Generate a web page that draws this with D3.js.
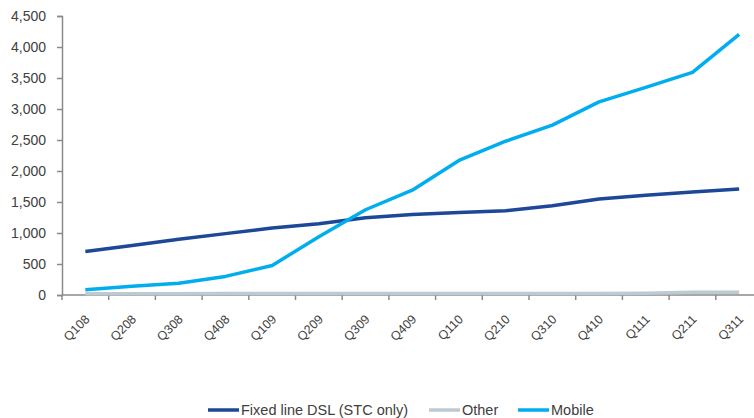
<!DOCTYPE html>
<html>
<head>
<meta charset="utf-8">
<script src="https://cdn.jsdelivr.net/npm/d3@7"></script>
<style>
  body { margin: 0; background: #fff; }
  text { font-family: "Liberation Sans", Arial, sans-serif; fill: #404040; }
</style>
</head>
<body>
<div id="chart"></div>
<script>
const width = 754, height = 418;

const quarters = ["Q108", "Q208", "Q308", "Q408", "Q109", "Q209", "Q309", "Q409",
  "Q110", "Q210", "Q310", "Q410", "Q111", "Q211", "Q311"];
const dsl = [700, 800, 900, 990, 1080, 1150, 1245, 1300, 1330, 1360, 1440, 1550, 1610, 1660, 1710];
const other = [20, 20, 20, 25, 25, 25, 25, 25, 25, 25, 25, 25, 30, 45, 45];
const mobile = [85, 140, 190, 300, 475, 940, 1375, 1690, 2170, 2480, 2740, 3115, 3350, 3590, 4205];
const yTicks = [0, 500, 1000, 1500, 2000, 2500, 3000, 3500, 4000, 4500];

const series = [
  { name: "Fixed line DSL (STC only)", values: dsl, color: "#1d4797" },
  { name: "Other", values: other, color: "#bccad2" },
  { name: "Mobile", values: mobile, color: "#00aeef" }
];

const mLeft = 62, mTop = 16, mBottom = 295;

const svg = d3.select("#chart").append("svg")
  .attr("width", width)
  .attr("height", height);

const x = d3.scaleBand().domain(quarters).range([mLeft, mLeft + 46.7 * quarters.length]);
const y = d3.scaleLinear().domain([0, 4500]).range([mBottom, mTop]);

// y axis
const yAxis = svg.append("g")
  .attr("transform", `translate(${mLeft},0)`)
  .call(d3.axisLeft(y).tickValues(yTicks).tickFormat(d3.format(",")).tickSize(5).tickPadding(11));
yAxis.select(".domain").attr("stroke", "#8a8a8a").attr("stroke-width", 1.5);
yAxis.selectAll(".tick line").attr("stroke", "#8a8a8a").attr("stroke-width", 1.5);
yAxis.selectAll(".tick text").style("font-size", "14px").attr("fill", "#404040");

// x axis: ticks at band boundaries
const xg = svg.append("g").attr("transform", `translate(0,${mBottom})`);
xg.append("line")
  .attr("x1", mLeft).attr("x2", x.range()[1])
  .attr("stroke", "#8a8a8a").attr("stroke-width", 1.5);
xg.selectAll(".xt")
  .data(quarters)
  .enter().append("line")
  .attr("x1", d => x(d)).attr("x2", d => x(d))
  .attr("y1", 0).attr("y2", 5)
  .attr("stroke", "#8a8a8a").attr("stroke-width", 1.5);
xg.selectAll(".xl")
  .data(quarters)
  .enter().append("text")
  .attr("text-anchor", "end")
  .style("font-size", "12.5px")
  .attr("transform", d => `translate(${x(d) + x.bandwidth() / 2 + 5},${25}) rotate(-45)`)
  .text(d => d);

// lines
const line = d3.line()
  .x((d, i) => x(quarters[i]) + x.bandwidth() / 2)
  .y(d => y(d));

const order = [series[1], series[0], series[2]];
svg.selectAll(".series")
  .data(order)
  .enter().append("path")
  .attr("fill", "none")
  .attr("stroke", d => d.color)
  .attr("stroke-width", 3.5)
  .attr("stroke-linejoin", "round")
  .attr("d", d => line(d.values));

// legend
const legendX = [208, 429, 518];
const lg = svg.append("g").attr("transform", "translate(0,410)");
series.forEach((s, i) => {
  lg.append("line")
    .attr("x1", legendX[i]).attr("x2", legendX[i] + 31)
    .attr("stroke", s.color).attr("stroke-width", 3.5);
  lg.append("text")
    .attr("x", legendX[i] + 33)
    .attr("dy", "0.36em")
    .style("font-size", "14.5px")
    .text(s.name);
});
</script>
</body>
</html>
